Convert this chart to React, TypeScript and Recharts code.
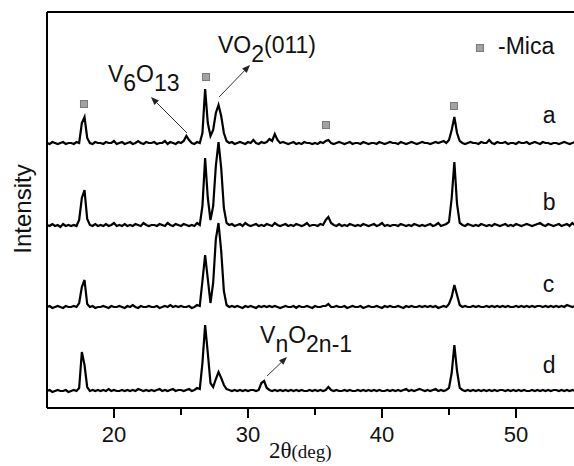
import React from "react"
import { LineChart, Line, XAxis, YAxis, ReferenceLine, ReferenceDot } from "recharts"

// 2θ sampling of the scans (deg)
const TWO_THETA_START = 15
const TWO_THETA_STEP = 0.2

// raw intensities (arb. units)
const SCAN_A = [
  2, 1, 3, 2, 1, 2, 3, 1, 2, 2,
  1, 3, 2, 22, 28, 7, 2, 1, 3, 2,
  2, 1, 3, 2, 2, 4, 1, 2, 3, 1,
  2, 3, 1, 2, 4, 2, 1, 3, 2, 2,
  3, 1, 2, 2, 4, 1, 3, 2, 1, 3,
  2, 4, 9, 5, 2, 1, 3, 2, 12, 56,
  22, 9, 15, 32, 40, 29, 12, 4, 2, 3,
  1, 2, 3, 2, 1, 3, 2, 5, 2, 1,
  3, 2, 3, 6, 4, 11, 5, 2, 3, 2,
  1, 2, 3, 1, 2, 1, 3, 2, 2, 1,
  2, 1, 3, 2, 4, 5, 2, 1, 2, 3,
  2, 1, 2, 3, 1, 2, 2, 1, 3, 2,
  1, 2, 2, 1, 3, 2, 1, 2, 3, 2,
  2, 1, 3, 2, 1, 2, 3, 2, 1, 2,
  3, 2, 2, 1, 2, 3, 2, 3, 4, 2,
  5, 15, 28, 12, 4, 2, 1, 2, 3, 2,
  2, 1, 3, 2, 2, 5, 2, 1, 3, 2,
  2, 3, 1, 2, 2, 1, 3, 2, 2, 3,
  1, 2, 3, 2, 1, 3, 2, 2, 1, 2,
  2, 1, 2, 3, 2, 1, 2, 3, 2, 2,
  2,
]

const SCAN_B = [
  3, 2, 4, 2, 3, 1, 4, 2, 3, 2,
  3, 2, 8, 30, 38, 9, 3, 2, 4, 2,
  3, 2, 4, 2, 3, 5, 2, 3, 2, 4,
  2, 3, 2, 4, 3, 2, 5, 3, 2, 3,
  3, 2, 4, 3, 2, 5, 3, 2, 4, 3,
  2, 4, 3, 2, 3, 2, 5, 3, 22, 70,
  30, 8, 22, 62, 86, 60, 20, 5, 3, 4,
  2, 3, 4, 2, 5, 3, 2, 3, 4, 2,
  3, 2, 4, 3, 2, 5, 3, 2, 3, 4,
  2, 3, 2, 4, 3, 2, 3, 5, 2, 3,
  3, 2, 4, 3, 8, 11, 5, 3, 2, 4,
  2, 3, 2, 4, 3, 2, 3, 2, 4, 3,
  2, 3, 4, 2, 3, 5, 2, 3, 2, 3,
  3, 2, 4, 3, 2, 3, 2, 4, 3, 2,
  3, 2, 3, 4, 2, 3, 5, 2, 3, 4,
  6, 30, 66, 24, 5, 3, 2, 4, 3, 2,
  3, 2, 4, 3, 2, 3, 2, 4, 3, 2,
  3, 4, 2, 3, 2, 4, 3, 2, 3, 4,
  3, 2, 3, 4, 5, 3, 2, 4, 3, 2,
  3, 4, 2, 3, 4, 2, 5, 3, 4, 3,
  3,
]

const SCAN_C = [
  2, 3, 1, 2, 3, 2, 1, 3, 2, 2,
  3, 2, 6, 22, 29, 5, 2, 3, 1, 2,
  2, 3, 2, 1, 3, 2, 2, 3, 2, 1,
  3, 2, 4, 2, 1, 3, 2, 2, 3, 2,
  2, 3, 1, 2, 3, 2, 4, 2, 3, 2,
  3, 2, 2, 3, 1, 2, 4, 3, 28, 54,
  30, 6, 26, 70, 86, 58, 18, 4, 2, 3,
  2, 3, 2, 1, 3, 2, 3, 2, 1, 3,
  2, 3, 2, 3, 2, 3, 2, 1, 2, 3,
  2, 2, 3, 1, 3, 2, 2, 3, 2, 1,
  3, 2, 2, 3, 3, 5, 2, 2, 3, 2,
  2, 3, 1, 2, 3, 2, 2, 3, 1, 2,
  3, 2, 2, 3, 2, 1, 3, 2, 3, 2,
  2, 3, 2, 1, 3, 2, 3, 2, 2, 3,
  2, 3, 2, 3, 2, 3, 1, 2, 3, 2,
  5, 12, 24, 14, 4, 2, 3, 2, 2, 3,
  2, 3, 2, 2, 3, 2, 3, 2, 3, 2,
  3, 2, 3, 2, 2, 3, 2, 3, 2, 3,
  2, 3, 2, 3, 3, 2, 3, 2, 3, 2,
  3, 2, 3, 2, 4, 3, 2, 3, 2, 3,
  2,
]

const SCAN_D = [
  2, 3, 1, 2, 3, 2, 2, 3, 1, 2,
  3, 2, 5, 41, 28, 6, 2, 3, 2, 3,
  2, 3, 2, 4, 2, 3, 2, 2, 3, 2,
  3, 2, 3, 2, 4, 3, 2, 3, 2, 3,
  2, 3, 4, 2, 3, 2, 3, 4, 2, 3,
  3, 2, 3, 4, 2, 3, 5, 4, 30, 68,
  40, 10, 6, 14, 21, 15, 8, 4, 3, 2,
  3, 2, 3, 2, 3, 2, 3, 3, 2, 3,
  10, 12, 5, 3, 2, 3, 2, 3, 2, 3,
  2, 3, 2, 3, 2, 3, 2, 2, 3, 2,
  3, 2, 3, 2, 3, 6, 3, 2, 3, 2,
  2, 3, 2, 3, 2, 2, 3, 2, 3, 2,
  3, 2, 3, 2, 3, 2, 2, 3, 2, 3,
  2, 3, 2, 3, 4, 2, 3, 2, 3, 4,
  3, 2, 3, 2, 3, 4, 2, 3, 2, 3,
  5, 20, 48, 22, 5, 3, 2, 3, 2, 3,
  2, 3, 2, 3, 2, 3, 2, 3, 2, 3,
  3, 2, 3, 2, 3, 2, 3, 2, 3, 2,
  2, 3, 2, 3, 2, 3, 2, 3, 2, 3,
  3, 2, 3, 2, 3, 2, 3, 2, 3, 2,
  3,
]

// vertical stacking offsets of the four scans
const SERIES = ["a", "b", "c", "d"]
const OFFSETS = [263, 180, 99, 15]

const X_TICKS = [20, 25, 30, 35, 40, 45, 50, 55]
const X_LABELS = [20, 30, 40, 50]

// mica reflections marked with squares [2θ, intensity]
const MICA_MARKS = [
  [17.76, 304],
  [26.87, 331],
  [35.82, 283],
  [45.37, 302],
]

const scans = [SCAN_A, SCAN_B, SCAN_C, SCAN_D]
const data = SCAN_A.map((_, i) => {
  const row: Record<string, number> = { t: +(TWO_THETA_START + i * TWO_THETA_STEP).toFixed(2) }
  SERIES.forEach((k, j) => {
    row[k] = scans[j][i] + OFFSETS[j]
  })
  return row
})

const SANS = "'Liberation Sans', Arial, sans-serif"
const SERIF = "'Liberation Serif', 'Times New Roman', serif"

const Square = (p: any) => (
  <rect x={p.cx - 3.5} y={p.cy - 3.5} width={7} height={7} fill="#a3a3a3" stroke="#7a7a7a" strokeWidth={1} />
)

const arrow = (p: any) => {
  const { x1, y1, x2, y2 } = p
  const ang = Math.atan2(y2 - y1, x2 - x1)
  const len = 8
  const w = 3.2
  const bx = x2 - len * Math.cos(ang)
  const by = y2 - len * Math.sin(ang)
  const nx = -Math.sin(ang) * w
  const ny = Math.cos(ang) * w
  return (
    <g>
      <line x1={x1} y1={y1} x2={bx} y2={by} stroke="#333" strokeWidth={1} />
      <polygon points={`${x2},${y2} ${bx + nx},${by + ny} ${bx - nx},${by - ny}`} fill="#222" />
    </g>
  )
}

const textShape = (content: React.ReactNode, size = 23) => (p: any) => (
  <text x={p.cx} y={p.cy} fontFamily={SANS} fontSize={size} fill="#111">
    {content}
  </text>
)

const XTick = (p: any) => {
  const v = p.payload.value
  const major = X_LABELS.includes(v)
  return (
    <g>
      <line x1={p.x} y1={p.y} x2={p.x} y2={p.y + (major ? 10 : 7)} stroke="#000" strokeWidth={2} />
      {major && (
        <text x={p.x} y={p.y + 34} textAnchor="middle" fontFamily={SANS} fontSize={22} fill="#111">
          {v}
        </text>
      )}
    </g>
  )
}

export default function App() {
  return (
    <div style={{ position: "fixed", left: 0, top: 0, width: 574, height: 466, overflow: "hidden", background: "#fff" }}>
      <LineChart width={600} height={466} data={data} margin={{ top: 12, right: 17, left: 0, bottom: 0 }}>
        <XAxis
          dataKey="t"
          type="number"
          domain={[15, 55]}
          ticks={X_TICKS}
          interval={0}
          allowDataOverflow
          height={58}
          tickSize={0}
          tickMargin={0}
          tick={<XTick />}
          axisLine={{ stroke: "#000", strokeWidth: 2 }}
          label={() => (
            <text x={269} y={458} fontFamily={SERIF} fill="#111">
              <tspan fontSize={23}>2θ</tspan>
              <tspan fontSize={19}>(deg)</tspan>
            </text>
          )}
        />
        <YAxis
          type="number"
          domain={[0, 396]}
          width={47}
          tick={false}
          tickLine={false}
          axisLine={{ stroke: "#000", strokeWidth: 2 }}
          label={() => (
            <text
              x={22}
              y={209}
              transform="rotate(-90 22 209)"
              textAnchor="middle"
              dominantBaseline="central"
              fontFamily={SANS}
              fontSize={24}
              fill="#111"
            >
              Intensity
            </text>
          )}
        />
        <ReferenceLine y={396} stroke="#000" strokeWidth={2} />

        {SERIES.map((k) => (
          <Line
            key={k}
            dataKey={k}
            type="linear"
            stroke="#000"
            strokeWidth={2.2}
            dot={false}
            isAnimationActive={false}
          />
        ))}

        {MICA_MARKS.map(([x, y], i) => (
          <ReferenceDot key={i} x={x} y={y} r={4} shape={Square} />
        ))}
        <ReferenceDot x={47.31} y={360} r={4} shape={Square} />
        <ReferenceDot x={48.66} y={354} r={1} shape={textShape("-Mica")} />

        {/* phase annotations */}
        <ReferenceDot
          x={19.55}
          y={326}
          r={1}
          shape={textShape(
            <>
              <tspan>V</tspan>
              <tspan dy={9}>6</tspan>
              <tspan dy={-9}>O</tspan>
              <tspan dy={9}>13</tspan>
            </>
          )}
        />
        <ReferenceLine segment={[{ x: 25.45, y: 275 }, { x: 22.76, y: 311 }]} shape={arrow} />

        <ReferenceDot
          x={27.76}
          y={355}
          r={1}
          shape={textShape(
            <>
              <tspan>VO</tspan>
              <tspan dy={9}>2</tspan>
              <tspan dy={-9}>(011)</tspan>
            </>
          )}
        />
        <ReferenceLine segment={[{ x: 27.84, y: 311 }, { x: 30.15, y: 343 }]} shape={arrow} />

        <ReferenceDot
          x={30.9}
          y={65}
          r={1}
          shape={textShape(
            <>
              <tspan>V</tspan>
              <tspan dy={9}>n</tspan>
              <tspan dy={-9}>O</tspan>
              <tspan dy={9}>2n-1</tspan>
            </>
          )}
        />
        <ReferenceLine segment={[{ x: 31.42, y: 32 }, { x: 32.91, y: 51 }]} shape={arrow} />

        {/* scan labels */}
        <ReferenceDot x={52.0} y={285} r={1} shape={textShape("a")} />
        <ReferenceDot x={52.0} y={198} r={1} shape={textShape("b")} />
        <ReferenceDot x={52.0} y={116} r={1} shape={textShape("c")} />
        <ReferenceDot x={52.0} y={35} r={1} shape={textShape("d")} />
      </LineChart>
    </div>
  )
}
